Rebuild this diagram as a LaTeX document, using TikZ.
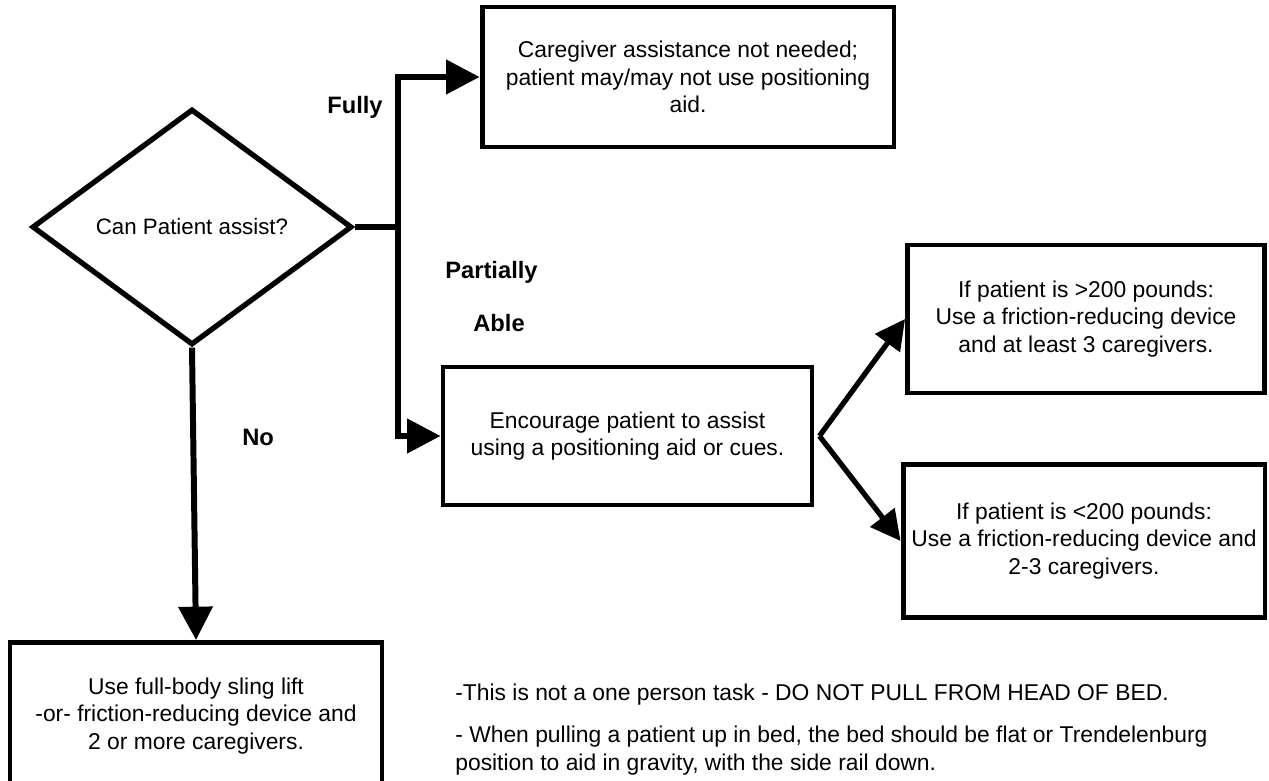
\documentclass[tikz,border=0pt]{standalone}
\usepackage{fontspec}
\setmainfont{Liberation Sans}
\usetikzlibrary{arrows.meta,positioning,shapes.geometric}

\tikzset{
  box/.style={draw, line width=2.8pt, align=center, inner sep=2pt,
    font={\fontsize{13}{15.5}\selectfont}},
  decision/.style={draw, diamond, line width=3pt, inner sep=0pt, aspect=1.36,
    minimum width=6.4cm, minimum height=4.72cm, font={\fontsize{12.7}{15}\selectfont}},
  flow/.style={line width=3.4pt, -{Triangle[length=19pt,width=19pt]}},
  branch/.style={line width=3pt, -{Triangle[length=17pt,width=17pt]}},
  lbl/.style={inner sep=0pt, font={\fontsize{13.5}{16}\selectfont\bfseries}},
  note/.style={align=left, inner sep=0pt, font={\fontsize{13}{15.5}\selectfont}},
}

\begin{document}
\begin{tikzpicture}[x=0.02cm, y=-0.02cm]
  \fill[white] (0,0) rectangle (1269,781);
  \useasboundingbox (0,0) rectangle (1269,781);

  % decision and boxes
  \node[decision] (assist) at (192,227) {Can Patient assist?};
  \node[box, minimum width=8.24cm, minimum height=2.8cm] (noaid) at (688,77)
    {Caregiver assistance not needed;\\ patient may/may not use positioning\\ aid.};
  \node[box, minimum width=7.38cm, minimum height=2.76cm] (cue) at (627.5,436)
    {Encourage patient to assist\\ using a positioning aid or cues.};
  \node[box, minimum width=7.14cm, minimum height=2.96cm] (heavy) at (1086,319)
    {If patient is >200 pounds:\\ Use a friction-reducing device\\ and at least 3 caregivers.};
  \node[box, minimum width=7.24cm, minimum height=3.06cm] (light) at (1084,541)
    {If patient is <200 pounds:\\ Use a friction-reducing device and\\ 2-3 caregivers.};
  \node[box, minimum width=7.44cm, minimum height=2.94cm] (sling) at (196,716)
    {Use full-body sling lift\\ -or- friction-reducing device and\\ 2 or more caregivers.};

  % branch labels
  \node[lbl, anchor=east] (fully) at (383,107) {Fully};
  \node[lbl, anchor=west] (partial) at (445,272) {Partially};
  \node[lbl, anchor=west] (able) at (473,323) {Able};
  \node[lbl, anchor=west] (no) at (242,437) {No};

  % connectors
  \coordinate (fork) at (398,227);
  \draw[line width=3.4pt] (assist.east) -- (fork);
  \draw[flow] (fork) |- (noaid.west);
  \draw[flow] (fork) |- (cue.west);
  \draw[flow] (assist.south) -- (sling.north);
  \coordinate[right=0.1cm of cue.east] (split);
  \draw[branch] (split) -- (heavy.west);
  \draw[branch] (split) -- (light.west);

  % notes
  \node[note, anchor=west] (note1) at (455,695)
    {-This is not a one person task - DO NOT PULL FROM HEAD OF BED.};
  \node[note, below=0.4cm of note1.south west, anchor=north west] (note2)
    {- When pulling a patient up in bed, the bed should be flat or Trendelenburg\\
     position to aid in gravity, with the side rail down.};
\end{tikzpicture}
\end{document}
